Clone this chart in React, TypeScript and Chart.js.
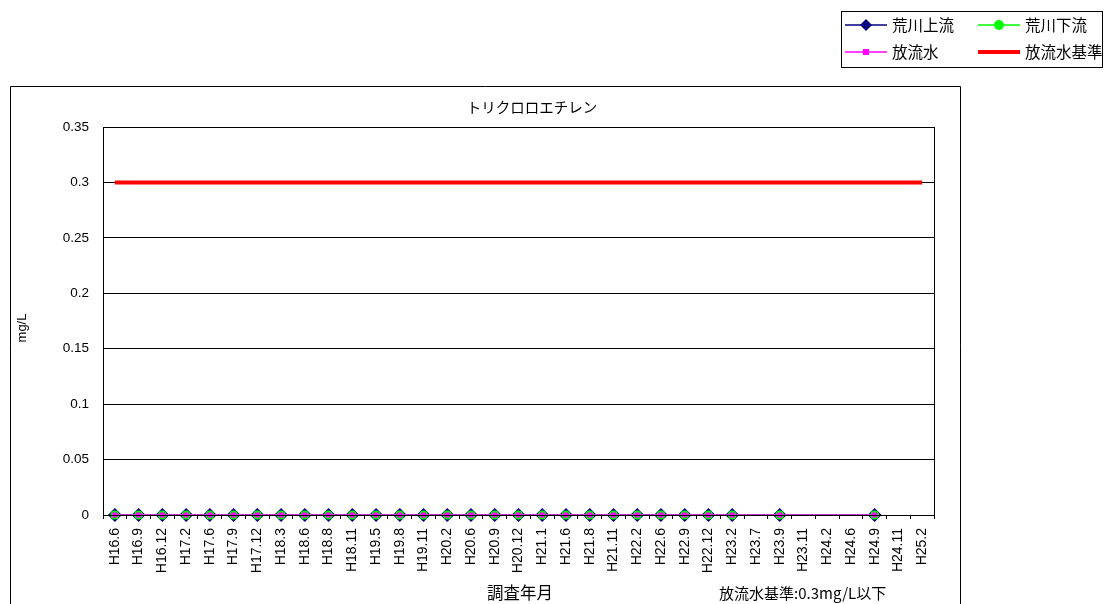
import React, { useEffect, useRef } from "react";
import { Chart, registerables } from "chart.js";

Chart.register(...registerables);

const categories = [
  "H16.6", "H16.9", "H16.12", "H17.2", "H17.6", "H17.9", "H17.12", "H18.3", "H18.6", "H18.8",
  "H18.11", "H19.5", "H19.8", "H19.11", "H20.2", "H20.6", "H20.9", "H20.12", "H21.1", "H21.6",
  "H21.8", "H21.11", "H22.2", "H22.6", "H22.9", "H22.12", "H23.2", "H23.7", "H23.9", "H23.11",
  "H24.2", "H24.6", "H24.9", "H24.11", "H25.2",
];

const N = null;
const arakawaUpstream = [
  0, 0, 0, 0, 0, 0, 0, 0, 0, 0,
  0, 0, 0, 0, 0, 0, 0, 0, 0, 0,
  0, 0, 0, 0, 0, 0, 0, N, 0, N,
  N, N, 0, N, N,
];
const arakawaDownstream = [
  0, 0, 0, 0, 0, 0, 0, 0, 0, 0,
  0, 0, 0, 0, 0, 0, 0, 0, 0, 0,
  0, 0, 0, 0, 0, 0, 0, N, 0, N,
  N, N, 0, N, N,
];
const effluent = [
  0, 0, 0, 0, 0, 0, 0, 0, 0, 0,
  0, 0, 0, 0, 0, 0, 0, 0, 0, 0,
  0, 0, 0, 0, 0, 0, 0, N, 0, N,
  N, N, 0, N, N,
];
const effluentStandard = categories.map(() => 0.3);

const yTickLabels = ["0", "0.05", "0.1", "0.15", "0.2", "0.25", "0.3", "0.35"];

const chartTitle = "トリクロロエチレン";
const yAxisTitle = "mg/L";
const xAxisTitle = "調査年月";
const noteText = "放流水基準:0.3mg/L以下";
const seriesNames = ["荒川上流", "荒川下流", "放流水", "放流水基準"];

const JP = '"Noto Sans CJK JP", "Noto Sans", sans-serif';
const LAT = '"Liberation Sans", Arial, sans-serif';

const overlay = {
  id: "overlay",
  afterDraw(chart: any) {
    const ctx = chart.ctx as CanvasRenderingContext2D;
    const a = chart.chartArea;
    ctx.save();
    // outer chart box
    ctx.strokeStyle = "#000";
    ctx.lineWidth = 1;
    ctx.beginPath();
    ctx.moveTo(10.5, 620);
    ctx.lineTo(10.5, 86.5);
    ctx.lineTo(960.5, 86.5);
    ctx.lineTo(960.5, 620);
    ctx.stroke();
    // plot area border
    ctx.strokeRect(Math.round(a.left) + 0.5, Math.round(a.top) + 0.5, Math.round(a.right - a.left), Math.round(a.bottom - a.top));

    // title
    ctx.fillStyle = "#000";
    ctx.font = `14.5px ${JP}`;
    ctx.textAlign = "center";
    ctx.textBaseline = "middle";
    ctx.fillText(chartTitle, 532, 107);

    // y axis title
    ctx.save();
    ctx.translate(22, 328);
    ctx.rotate(-Math.PI / 2);
    ctx.font = `13px ${LAT}`;
    ctx.fillText(yAxisTitle, 0, 0);
    ctx.restore();

    // x axis title & note
    ctx.font = `16.5px ${JP}`;
    ctx.fillText(xAxisTitle, 520, 593);
    ctx.font = `15px ${JP}`;
    ctx.textAlign = "left";
    ctx.fillText(noteText, 719, 593);

    // legend box
    ctx.fillStyle = "#fff";
    ctx.fillRect(841, 11, 262, 56);
    ctx.strokeStyle = "#000";
    ctx.strokeRect(841.5, 11.5, 261, 56);

    const drawEntry = (x0: number, x1: number, y: number, color: string, width: number, marker: string, label: string) => {
      ctx.strokeStyle = color;
      ctx.lineWidth = width;
      ctx.beginPath();
      ctx.moveTo(x0, y);
      ctx.lineTo(x1, y);
      ctx.stroke();
      const cx = (x0 + x1) / 2;
      ctx.fillStyle = color;
      if (marker === "diamond") {
        ctx.beginPath();
        ctx.moveTo(cx, y - 6);
        ctx.lineTo(cx + 6, y);
        ctx.lineTo(cx, y + 6);
        ctx.lineTo(cx - 6, y);
        ctx.closePath();
        ctx.fill();
      } else if (marker === "circle") {
        ctx.beginPath();
        ctx.arc(cx, y, 5, 0, Math.PI * 2);
        ctx.fill();
      } else if (marker === "square") {
        ctx.fillRect(cx - 3, y - 3, 6, 6);
      }
      ctx.fillStyle = "#000";
      ctx.font = `15.5px ${JP}`;
      ctx.textAlign = "left";
      ctx.textBaseline = "middle";
      ctx.fillText(label, x1 + 5, y);
    };
    drawEntry(845, 887, 25, "#000080", 1.5, "diamond", seriesNames[0]);
    drawEntry(978, 1020, 25, "#00FF00", 1.5, "circle", seriesNames[1]);
    drawEntry(845, 887, 52, "#FF00FF", 1.5, "square", seriesNames[2]);
    drawEntry(978, 1020, 52, "#FF0000", 4, "none", seriesNames[3]);
    ctx.restore();
  },
};

export default function App() {
  const ref = useRef<HTMLCanvasElement>(null);
  useEffect(() => {
    if (!ref.current) return;
    const chart = new Chart(ref.current, {
      type: "line",
      data: {
        labels: categories,
        datasets: [
          {
            label: seriesNames[0],
            data: arakawaUpstream,
            borderColor: "#000080",
            backgroundColor: "#000080",
            borderWidth: 1.5,
            pointStyle: "rectRot",
            pointRadius: 7,
            pointBorderWidth: 0,
            spanGaps: true,
            tension: 0,
            clip: false,
            order: 2,
          },
          {
            label: seriesNames[1],
            data: arakawaDownstream,
            borderColor: "#00FF00",
            backgroundColor: "#00FF00",
            borderWidth: 1.5,
            pointStyle: "circle",
            pointRadius: 4.5,
            pointBorderWidth: 0,
            spanGaps: true,
            tension: 0,
            clip: false,
            order: 1,
          },
          {
            label: seriesNames[2],
            data: effluent,
            borderColor: "#FF00FF",
            backgroundColor: "#FF00FF",
            borderWidth: 1.5,
            pointStyle: "rect",
            pointRadius: 3.6,
            pointBorderWidth: 0,
            spanGaps: true,
            tension: 0,
            clip: false,
            order: 0,
          },
          {
            label: seriesNames[3],
            data: effluentStandard,
            borderColor: "#FF0000",
            backgroundColor: "#FF0000",
            borderWidth: 4,
            pointRadius: 0,
            tension: 0,
            order: 3,
          },
        ],
      },
      options: {
        animation: false,
        responsive: false,
        layout: { padding: { left: 10, top: 127, right: 175, bottom: 0 } },
        plugins: {
          legend: { display: false },
          title: { display: false },
          tooltip: { enabled: false },
        },
        scales: {
          x: {
            type: "category",
            offset: true,
            grid: { offset: true, drawOnChartArea: false, drawTicks: true, tickLength: 4, color: "#000" },
            border: { color: "#000", width: 1 },
            ticks: {
              autoSkip: false,
              maxRotation: 90,
              minRotation: 90,
              padding: 9,
              color: "#000",
              font: { family: LAT, size: 14 },
            },
            afterFit: (s: any) => {
              s.height = 89;
            },
          },
          y: {
            min: 0,
            max: 0.35,
            ticks: {
              stepSize: 0.05,
              padding: 14,
              color: "#000",
              font: { family: LAT, size: 13.5 },
              callback: (_v: any, i: number) => yTickLabels[i],
            },
            grid: { color: "#000", lineWidth: 1, drawTicks: false, tickLength: 0 },
            border: { color: "#000", width: 1 },
            afterFit: (s: any) => {
              s.width = 93;
            },
          },
        },
      },
      plugins: [overlay],
    });
    return () => chart.destroy();
  }, []);
  return (
    <div style={{ position: "absolute", left: 0, top: 0, width: 1109, height: 604, background: "#fff" }}>
      <canvas ref={ref} width={1109} height={604} style={{ display: "block" }} />
    </div>
  );
}
